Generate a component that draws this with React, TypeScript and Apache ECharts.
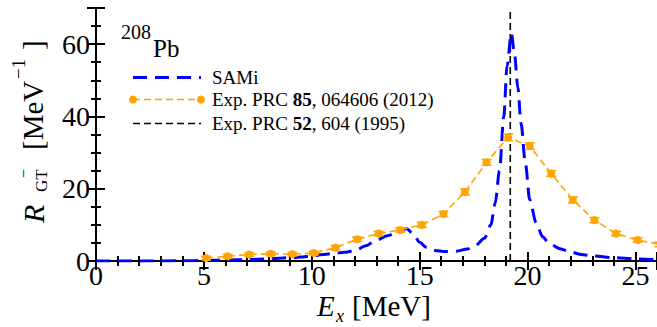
import React, { useEffect, useRef } from "react";
import * as echarts from "echarts";

// SAMi Gamow-Teller strength function (MeV^-1) vs excitation energy (MeV)
const samiEnergy = [
  0, 2, 4, 5, 6, 7, 8, 9, 9.5, 10, 10.5, 11, 11.5, 12, 12.5, 13, 13.5, 14, 14.4,
  14.7, 15, 15.3, 15.7, 16.2, 16.7, 17.2, 17.6, 18, 18.3, 18.5, 18.7, 18.9, 19.05,
  19.25, 19.4, 19.55, 19.7, 19.9, 20.1, 20.4, 20.7, 21, 21.5, 22, 22.5, 23, 24, 25, 26,
];
const samiStrength = [
  0, 0, 0.05, 0.15, 0.25, 0.4, 0.6, 0.9, 1.1, 1.4, 1.8, 2.1, 2.4, 2.9, 4.2, 5.8, 7.0,
  8.0, 8.9, 7.5, 5.2, 3.8, 2.9, 2.6, 2.7, 3.3, 4.4, 6.3, 10, 16, 25, 40, 54, 63, 57,
  48, 38, 27, 17, 10.5, 6.7, 4.9, 3.4, 2.5, 1.8, 1.4, 0.9, 0.6, 0.4,
];

// Experimental strength, PRC 85, 064606 (2012)
const expEnergy = [
  5.1, 6.1, 7.1, 8.1, 9.1, 10.1, 11.1, 12.1, 13.1, 14.1, 15.1, 16.1, 17.1, 18.1,
  19.1, 20.1, 21.1, 22.1, 23.1, 24.1, 25.1, 26.1,
];
const expStrength = [
  0.8, 1.3, 1.8, 2.0, 1.9, 2.2, 3.7, 6.0, 7.6, 8.6, 10.0, 13.0, 19.1, 27.3, 34.2,
  31.8, 24.2, 16.9, 11.3, 7.6, 5.8, 4.6,
];
const expError = [
  0.5, 0.5, 0.5, 0.5, 0.5, 0.5, 0.6, 0.6, 0.6, 0.6, 0.7, 0.7, 0.8, 0.8, 0.9, 0.9,
  0.8, 0.8, 0.7, 0.6, 0.6, 0.6,
];

// GT resonance energy, PRC 52, 604 (1995)
const gtrEnergy = 19.2;

const xTicks = [0, 5, 10, 15, 20, 25];
const yTicks = [0, 20, 40, 60];

const SERIF = "Liberation Serif";
const BLUE = "#0000ff";
const ORANGE = "#ffa500";

const textStyle = (text: string, fontSize: number, italic: boolean) => ({
  text,
  fontSize,
  lineHeight: Math.round(fontSize * 0.8),
  fontFamily: SERIF,
  fontStyle: italic ? "italic" : "normal",
  fill: "#000",
  align: "left",
  verticalAlign: "middle",
});

// text laid out along the rotated y-axis title (screen coordinates in)
const rotText = (sx: number, sy: number, text: string, fontSize: number, italic = false) => ({
  type: "text",
  x: -sy,
  y: sx,
  style: textStyle(text, fontSize, italic),
});

const plainText = (x: number, y: number, text: string, fontSize: number, italic = false) => ({
  type: "text",
  x,
  y,
  style: textStyle(text, fontSize, italic),
});

const legendRich = {
  a: { fontSize: 19, fontFamily: SERIF, fill: "#000", lineHeight: 16 },
  b: { fontSize: 19, fontFamily: SERIF, fontWeight: "bold", fill: "#000", lineHeight: 16 },
};

export default function App() {
  const ref = useRef<HTMLDivElement>(null);

  useEffect(() => {
    if (!ref.current) return;
    const chart = echarts.init(ref.current, undefined, { renderer: "svg" });

    const axisCommon = {
      type: "value",
      axisLine: { show: true, lineStyle: { color: "#000", width: 2 } },
      axisTick: { show: true, inside: true, length: 9, lineStyle: { color: "#000", width: 2 } },
      minorTick: { show: true, length: 5, lineStyle: { color: "#000", width: 2 } },
      splitLine: { show: false },
      minorSplitLine: { show: false },
    };

    const samiData = samiEnergy.map((e, i) => [e, samiStrength[i]]);
    const expData = expEnergy.map((e, i) => [e, expStrength[i]]);
    const errData = expEnergy.map((e, i) => [e, expStrength[i], expError[i]]);

    chart.setOption({
      animation: false,
      grid: { left: 96, top: 8, width: 562.4, height: 253, containLabel: false },
      xAxis: [
        {
          ...axisCommon,
          min: 0,
          max: 26,
          interval: 5,
          minorTick: { ...axisCommon.minorTick, splitNumber: 5 },
          axisLabel: {
            show: true,
            margin: 3,
            fontSize: 28,
            lineHeight: 22,
            fontFamily: SERIF,
            color: "#000",
            showMaxLabel: false,
            formatter: (v: number) => (xTicks.includes(v) ? String(v) : ""),
          },
        },
        {
          ...axisCommon,
          position: "top",
          min: 0,
          max: 26,
          interval: 5,
          minorTick: { ...axisCommon.minorTick, splitNumber: 5 },
          axisLabel: { show: false },
        },
      ],
      yAxis: [
        {
          ...axisCommon,
          min: 0,
          max: 70,
          interval: 20,
          minorTick: { ...axisCommon.minorTick, splitNumber: 4 },
          axisLabel: {
            show: true,
            margin: 6,
            fontSize: 28,
            lineHeight: 22,
            fontFamily: SERIF,
            color: "#000",
            formatter: (v: number) => (yTicks.includes(v) ? String(v) : ""),
          },
        },
        {
          ...axisCommon,
          position: "right",
          min: 0,
          max: 70,
          interval: 20,
          minorTick: { ...axisCommon.minorTick, splitNumber: 4 },
          axisLabel: { show: false },
        },
      ],
      series: [
        {
          name: "Exp. PRC 52, 604 (1995)",
          type: "line",
          data: [
            [gtrEnergy, 0],
            [gtrEnergy, 70],
          ],
          showSymbol: false,
          lineStyle: { color: "#000", width: 1.6, type: [7, 4] },
          z: 1,
        },
        {
          name: "Exp. PRC 85, 064606 (2012)",
          type: "line",
          data: expData,
          clip: true,
          symbol: "circle",
          symbolSize: 8,
          itemStyle: { color: ORANGE },
          lineStyle: { color: ORANGE, width: 1.6, type: [7, 4] },
          z: 3,
        },
        {
          type: "custom",
          data: errData,
          clip: true,
          z: 4,
          renderItem: (params: any, api: any) => {
            const x = api.value(0);
            const y = api.value(1);
            const err = api.value(2);
            const top = api.coord([x, y + err]);
            const bot = api.coord([x, y - err]);
            const cap = 5;
            const style = { stroke: ORANGE, lineWidth: 1.6 };
            return {
              type: "group",
              children: [
                { type: "line", shape: { x1: top[0], y1: top[1], x2: bot[0], y2: bot[1] }, style },
                { type: "line", shape: { x1: top[0] - cap, y1: top[1], x2: top[0] + cap, y2: top[1] }, style },
                { type: "line", shape: { x1: bot[0] - cap, y1: bot[1], x2: bot[0] + cap, y2: bot[1] }, style },
              ],
            };
          },
        },
        {
          name: "SAMi",
          type: "line",
          data: samiData,
          smooth: 0.3,
          smoothMonotone: "x",
          showSymbol: false,
          lineStyle: { color: BLUE, width: 3, type: [14, 8] },
          z: 2,
        },
      ],
      graphic: [
        // nucleus label
        plainText(121, 31.5, "208", 20),
        plainText(153, 48.5, "Pb", 25),
        // legend
        {
          type: "line",
          shape: { x1: 133, y1: 77.5, x2: 201, y2: 77.5 },
          style: { stroke: BLUE, lineWidth: 3, lineDash: [14, 8] },
        },
        plainText(212, 77.5, "SAMi", 19),
        {
          type: "line",
          shape: { x1: 133, y1: 99.5, x2: 201, y2: 99.5 },
          style: { stroke: ORANGE, lineWidth: 1.6, lineDash: [7, 4] },
        },
        { type: "circle", shape: { cx: 133, cy: 99.5, r: 4 }, style: { fill: ORANGE } },
        { type: "circle", shape: { cx: 201, cy: 99.5, r: 4 }, style: { fill: ORANGE } },
        {
          type: "text",
          x: 212,
          y: 99.5,
          style: {
            text: "{a|Exp. PRC }{b|85}{a|, 064606 (2012)}",
            verticalAlign: "middle",
            rich: legendRich,
          },
        },
        {
          type: "line",
          shape: { x1: 133, y1: 123.5, x2: 201, y2: 123.5 },
          style: { stroke: "#000", lineWidth: 1.6, lineDash: [7, 4] },
        },
        {
          type: "text",
          x: 212,
          y: 123.5,
          style: {
            text: "{a|Exp. PRC }{b|52}{a|, 604 (1995)}",
            verticalAlign: "middle",
            rich: legendRich,
          },
        },
        // x-axis title: E_x [MeV]
        plainText(317, 306, "E", 29, true),
        plainText(336, 316, "x", 18, true),
        plainText(352, 306, "[MeV]", 29),
        // y-axis title: R_GT^- [MeV^-1], reading upward
        {
          type: "group",
          x: 0,
          y: 0,
          rotation: Math.PI / 2,
          children: [
            rotText(33, 223, "R", 30, true),
            rotText(41.3, 192, "GT", 17),
            rotText(23.5, 178, "\u2212", 16),
            rotText(33, 150, "[MeV", 29),
            rotText(18.5, 79, "\u22121", 19),
            rotText(33, 50, "]", 29),
          ],
        },
      ],
    });

    return () => chart.dispose();
  }, []);

  return (
    <div
      ref={ref}
      style={{ position: "fixed", left: 0, top: 0, width: 657, height: 327, background: "#fff" }}
    />
  );
}
